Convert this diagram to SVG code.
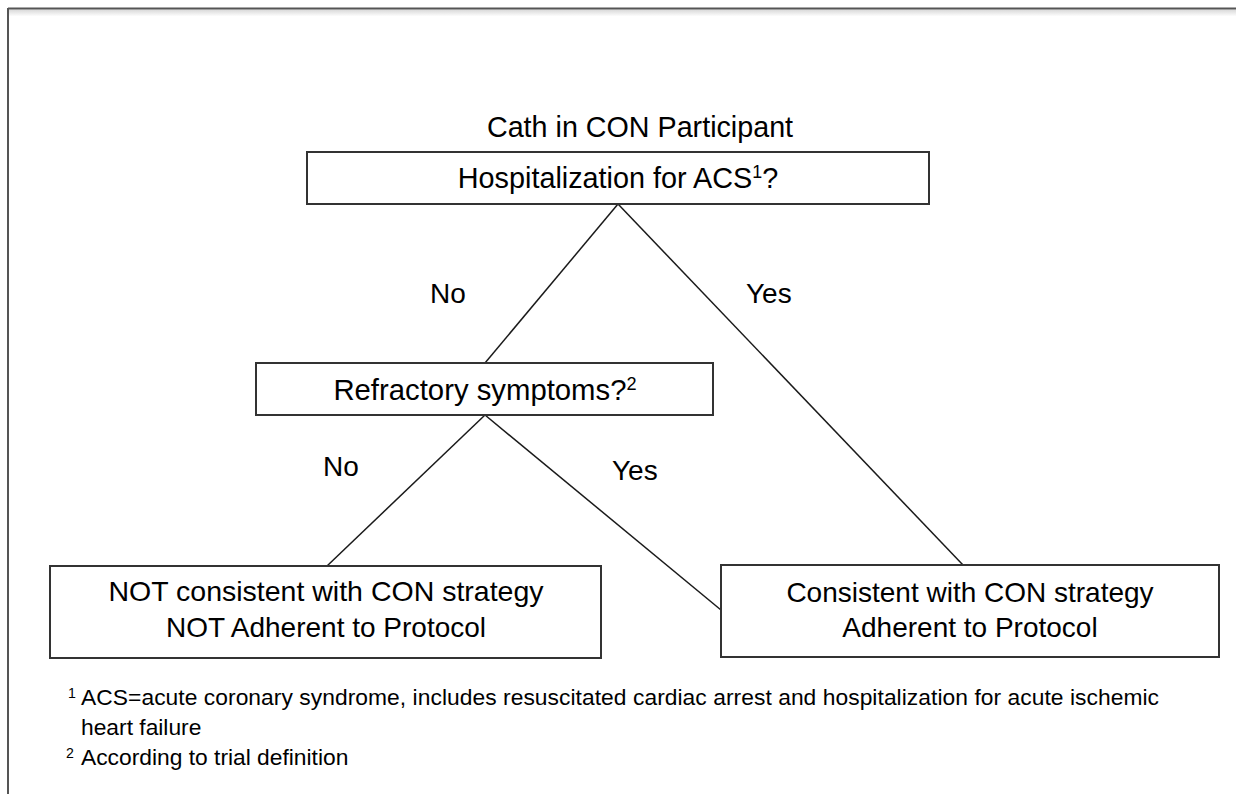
<svg xmlns="http://www.w3.org/2000/svg" width="1236" height="794" viewBox="0 0 1236 794">
<defs>
  <linearGradient id="shade" x1="0" y1="0" x2="0" y2="1">
    <stop offset="0" stop-color="#d8d8d8"/>
    <stop offset="1" stop-color="#ffffff"/>
  </linearGradient>
</defs>
<style>
  .box { fill: #ffffff; stroke: #333333; stroke-width: 2; }
  .conn { stroke: #1a1a1a; stroke-width: 1.5; fill: none; }
  .t { font-family: "Liberation Sans", Arial, sans-serif; font-size: 28px; fill: #000000; text-anchor: middle; }
  .lbl { font-family: "Liberation Sans", Arial, sans-serif; font-size: 28px; fill: #000000; }
  .fn { font-family: "Liberation Sans", Arial, sans-serif; font-size: 22.8px; fill: #000000; }
  .sup { font-size: 0.62em; }
</style>
<rect width="1236" height="794" fill="#ffffff"/>
<g id="frame">
  <rect x="8" y="9.5" width="1228" height="7" fill="url(#shade)"/>
  <line x1="8" y1="8.5" x2="1236" y2="8.5" stroke="#555555" stroke-width="2"/>
  <line x1="8" y1="8" x2="8" y2="794" stroke="#555555" stroke-width="2"/>
</g>
<g id="connectors">
  <line class="conn" x1="618" y1="204" x2="485" y2="363"/>
  <line class="conn" x1="618" y1="204" x2="963" y2="565"/>
  <line class="conn" x1="485" y1="415" x2="327" y2="566"/>
  <line class="conn" x1="485" y1="415" x2="721" y2="610"/>
</g>
<g id="title">
  <text class="t" x="640" y="137" style="font-size:28.7px">Cath in CON Participant</text>
</g>
<g id="node-hospitalization">
  <rect class="box" x="307" y="152" width="622" height="52"/>
  <text class="t" x="618" y="188" style="font-size:28.8px">Hospitalization for ACS<tspan class="sup" dy="-10">1</tspan><tspan dy="10">?</tspan></text>
</g>
<g id="node-refractory">
  <rect class="box" x="256" y="363" width="457" height="52"/>
  <text class="t" x="485" y="400" style="font-size:29.3px">Refractory symptoms?<tspan class="sup" dy="-10">2</tspan></text>
</g>
<g id="node-not-consistent">
  <rect class="box" x="50" y="566" width="551" height="92"/>
  <text class="t" x="326" y="601" style="font-size:28.5px">NOT consistent with CON strategy</text>
  <text class="t" x="326" y="637">NOT Adherent to Protocol</text>
</g>
<g id="node-consistent">
  <rect class="box" x="721" y="565" width="498" height="92"/>
  <text class="t" x="970" y="602">Consistent with CON strategy</text>
  <text class="t" x="970" y="637">Adherent to Protocol</text>
</g>
<g id="labels">
  <text class="lbl" x="430" y="303">No</text>
  <text class="lbl" x="746" y="303">Yes</text>
  <text class="lbl" x="323" y="476">No</text>
  <text class="lbl" x="612" y="480">Yes</text>
</g>
<g id="footnotes">
  <text class="fn" x="68" y="705"><tspan class="sup" dy="-7">1</tspan><tspan x="81" dy="7" textLength="1078" lengthAdjust="spacing">ACS=acute coronary syndrome, includes resuscitated cardiac arrest and hospitalization for acute ischemic</tspan></text>
  <text class="fn" x="81" y="735">heart failure</text>
  <text class="fn" x="66" y="765"><tspan class="sup" dy="-7">2</tspan><tspan x="81" dy="7">According to trial definition</tspan></text>
</g>
</svg>
